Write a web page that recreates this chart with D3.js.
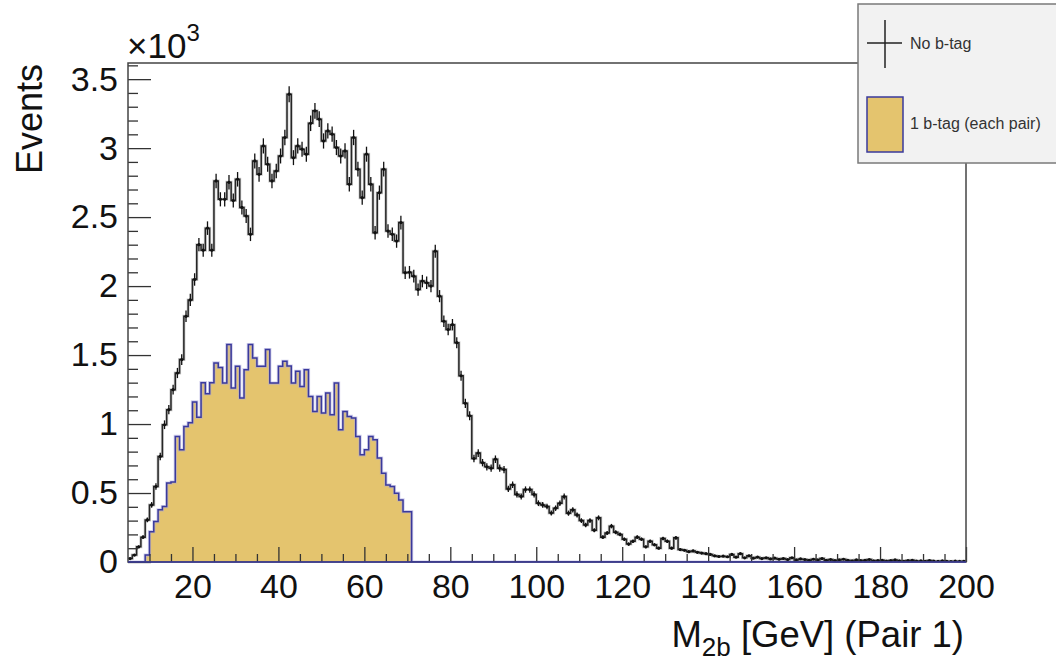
<!DOCTYPE html>
<html>
<head>
<meta charset="utf-8">
<script src="https://cdn.jsdelivr.net/npm/d3@7"></script>
<style>
  html, body { margin: 0; padding: 0; background: #ffffff; }
  svg { display: block; font-family: "Liberation Sans", Arial, Helvetica, sans-serif; }
</style>
</head>
<body>
<svg id="chart" width="1056" height="662"></svg>
<script>
// ---------------- DATA ----------------
const BIN_MIN = 5;      // lower edge of first bin [GeV]
const BIN_WIDTH = 1;    // bin width [GeV]

// "No b-tag" histogram: events per bin, bins starting at 5 GeV
const noBtag = [
  25, 50, 110, 180, 305, 414, 547, 765, 995, 1104,
  1249, 1370, 1467, 1781, 1900, 2048, 2300, 2260, 2420, 2260,
  2762, 2629, 2629, 2752, 2620, 2774, 2570, 2508, 2375, 2907,
  2810, 3016, 2883, 2762, 2834, 2943, 3077, 3391, 2931, 3016,
  2992, 2956, 3180, 3270, 3210, 3052, 3125, 3101, 3004, 2943,
  2980, 2738, 3077, 2847, 2641, 2956, 2738, 2387, 2677, 2847,
  2399, 2375, 2326, 2460, 2097, 2100, 2072, 1975, 2036, 2024,
  2000, 2253, 1927, 1745, 1685, 1720, 1590, 1350, 1150, 1060,
  750, 790, 720, 690, 680, 745, 680, 670, 530, 560,
  490, 475, 525, 525, 490, 426, 414, 402, 355, 390,
  426, 474, 354, 378, 341, 300, 269, 300, 230, 320,
  180, 210, 260, 215, 200, 165, 130, 150, 180, 165,
  110, 150, 125, 100, 170, 150, 100, 175, 90, 85,
  75, 80, 70, 65, 60, 55, 45, 40, 42, 38,
  55, 35, 60, 30, 45, 28, 35, 25, 30, 22,
  28, 20, 25, 18, 30, 15, 22, 18, 12, 20,
  15, 25, 12, 18, 10, 15, 20, 12, 8, 15,
  10, 12, 18, 8, 10, 12, 6, 10, 15, 8,
  5, 10, 12, 6, 8, 5, 10, 6, 4, 8,
  5, 3, 6, 4, 5
];

// "1 b-tag (each pair)" histogram: events per bin, bins starting at 5 GeV
const oneBtag = [
  0, 0, 0, 0, 50, 220, 293, 378, 402, 572,
  580, 910, 813, 983, 1010, 1160, 1050, 1300, 1220, 1300,
  1443, 1410, 1297, 1576, 1261, 1418, 1189, 1394, 1576, 1479,
  1418, 1418, 1540, 1297, 1297, 1418, 1455, 1420, 1297, 1382,
  1273, 1394, 1200, 1091, 1200, 1080, 1225, 1068, 1297, 959,
  1091, 1055, 1043, 910, 777, 813, 910, 886, 753, 644,
  559, 547, 499, 450, 365, 365
];

const xDomain = [5, 200];
const yMax = 3617;
const xMajorTicks = [20, 40, 60, 80, 100, 120, 140, 160, 180, 200];
const yMajorTicks = [0, 500, 1000, 1500, 2000, 2500, 3000, 3500];
const yTickLabels = ["0", "0.5", "1", "1.5", "2", "2.5", "3", "3.5"];
const legendLabels = ["No b-tag", "1 b-tag (each pair)"];

// ---------------- LAYOUT ----------------
const frame = { left: 128, right: 966, top: 63, bottom: 562 };
const svg = d3.select("#chart");

const x = d3.scaleLinear().domain(xDomain).range([frame.left, frame.right]);
const y = d3.scaleLinear().domain([0, yMax]).range([frame.bottom, frame.top]);

const colFill = "#e4c46e";
const colBlue = "#3a3a9c";
const colBlack = "#262626";

svg.append("defs").append("clipPath").attr("id", "plotclip")
  .append("rect").attr("x", frame.left).attr("y", frame.top)
  .attr("width", frame.right - frame.left).attr("height", frame.bottom - frame.top);

const plot = svg.append("g").attr("clip-path", "url(#plotclip)");

function stepPoints(values, nBinsTotal) {
  const pts = [];
  for (let i = 0; i < nBinsTotal; i++) {
    const v = i < values.length ? values[i] : 0;
    pts.push([BIN_MIN + i * BIN_WIDTH, v]);
  }
  pts.push([BIN_MIN + nBinsTotal * BIN_WIDTH, pts[pts.length - 1][1]]);
  return pts;
}
const nTotal = noBtag.length;

// yellow filled histogram (1 b-tag)
const ptsY = stepPoints(oneBtag, nTotal);
const area = d3.area().curve(d3.curveStepAfter)
  .x(d => x(d[0])).y0(y(0)).y1(d => y(d[1]));
plot.append("path").datum(ptsY).attr("d", area).attr("fill", colFill).attr("stroke", "none");
const lineH = d3.line().curve(d3.curveStepAfter).x(d => x(d[0])).y(d => y(d[1]));
plot.append("path").datum(ptsY).attr("d", lineH).attr("fill", "none")
  .attr("stroke", "#a9a6dd").attr("stroke-width", 3.2).attr("stroke-opacity", 0.55);
plot.append("path").datum(ptsY).attr("d", lineH).attr("fill", "none")
  .attr("stroke", colBlue).attr("stroke-width", 1.5);

// black histogram (no b-tag)
const ptsB = stepPoints(noBtag, nTotal);
plot.append("path").datum(ptsB).attr("d", lineH).attr("fill", "none")
  .attr("stroke", "#9a9a9a").attr("stroke-width", 3).attr("stroke-opacity", 0.5);
plot.append("path").datum(ptsB).attr("d", lineH).attr("fill", "none")
  .attr("stroke", colBlack).attr("stroke-width", 1.5);

// error bars + markers
const eb = plot.append("g");
noBtag.forEach((v, i) => {
  if (v <= 0) return;
  const cx = x(BIN_MIN + (i + 0.5) * BIN_WIDTH);
  const e = Math.sqrt(v);
  eb.append("line").attr("x1", cx).attr("x2", cx)
    .attr("y1", y(v - e)).attr("y2", y(v + e))
    .attr("stroke", "#111").attr("stroke-width", 1.3);
  eb.append("circle").attr("cx", cx).attr("cy", y(v)).attr("r", 1.6).attr("fill", "#111");
});

// ---------- axes ----------
const axisStyle = g => {
  g.select(".domain").remove();
  g.selectAll(".tick line").attr("stroke", "#333").attr("stroke-width", 1.3);
};

const xMinor = d3.range(10, 201, 5).filter(v => xMajorTicks.indexOf(v) < 0);
svg.append("g").attr("transform", `translate(0,${frame.bottom})`)
  .call(d3.axisBottom(x).tickValues(xMinor).tickSize(-8).tickFormat(""))
  .call(axisStyle);
svg.append("g").attr("transform", `translate(0,${frame.bottom})`)
  .call(d3.axisBottom(x).tickValues(xMajorTicks).tickSize(-15).tickPadding(12).tickFormat(d3.format("d")))
  .call(axisStyle)
  .call(g => g.selectAll("text").attr("font-size", 34).attr("fill", "#111")
    .attr("font-family", "'Liberation Sans', Arial, sans-serif"));

const yMinor = d3.range(100, 3601, 100).filter(v => yMajorTicks.indexOf(v) < 0);
svg.append("g").attr("transform", `translate(${frame.left},0)`)
  .call(d3.axisLeft(y).tickValues(yMinor).tickSize(-10).tickFormat(""))
  .call(axisStyle);
svg.append("g").attr("transform", `translate(${frame.left},0)`)
  .call(d3.axisLeft(y).tickValues(yMajorTicks).tickSize(-23).tickPadding(10)
    .tickFormat((d, i) => yTickLabels[i]))
  .call(axisStyle)
  .call(g => g.selectAll("text").attr("font-size", 34).attr("fill", "#111")
    .attr("font-family", "'Liberation Sans', Arial, sans-serif"));

// frame
svg.append("rect").attr("x", frame.left).attr("y", frame.top)
  .attr("width", frame.right - frame.left).attr("height", frame.bottom - frame.top)
  .attr("fill", "none").attr("stroke", "#444").attr("stroke-width", 1.5);
svg.append("line").attr("x1", frame.left).attr("x2", frame.right)
  .attr("y1", y(0)).attr("y2", y(0)).attr("stroke", colBlue).attr("stroke-width", 1.5);

// exponent label ×10^3
const expo = svg.append("text").attr("x", 127).attr("y", 58).attr("font-size", 35).attr("fill", "#111");
expo.append("tspan").text("\u00d710");
expo.append("tspan").attr("font-size", 24).attr("dy", -17).text("3");

// axis titles
svg.append("text").attr("transform", "translate(42,64) rotate(-90)")
  .attr("text-anchor", "end").attr("font-size", 36).attr("fill", "#111").text("Events");

const xt = svg.append("text").attr("x", 964).attr("y", 647).attr("text-anchor", "end")
  .attr("font-size", 36.5).attr("fill", "#111");
xt.append("tspan").text("M");
xt.append("tspan").attr("font-size", 26).attr("dy", 9).text("2b");
xt.append("tspan").attr("dy", -9).text(" [GeV] (Pair 1)");

// ---------- legend ----------
const lg = svg.append("g");
lg.append("rect").attr("x", 858).attr("y", 4).attr("width", 230).attr("height", 159)
  .attr("fill", "#f2f2f2").attr("stroke", "#7a7a7a").attr("stroke-width", 1.5);
lg.append("line").attr("x1", 867).attr("x2", 902).attr("y1", 43).attr("y2", 43)
  .attr("stroke", "#222").attr("stroke-width", 1.5);
lg.append("line").attr("x1", 885).attr("x2", 885).attr("y1", 20).attr("y2", 68)
  .attr("stroke", "#222").attr("stroke-width", 1.5);
lg.append("text").attr("x", 910).attr("y", 49).attr("font-size", 16).attr("fill", "#333")
  .text(legendLabels[0]);
lg.append("rect").attr("x", 867).attr("y", 97).attr("width", 36).attr("height", 55)
  .attr("fill", colFill).attr("stroke", colBlue).attr("stroke-width", 1.5);
lg.append("text").attr("x", 910).attr("y", 129).attr("font-size", 16).attr("fill", "#333")
  .text(legendLabels[1]);
</script>
</body>
</html>
